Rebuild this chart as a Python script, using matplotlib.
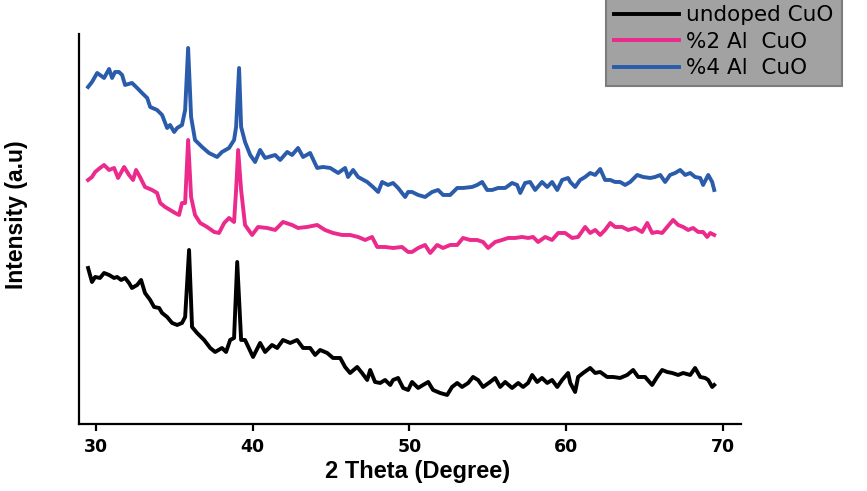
import matplotlib
matplotlib.use("Agg")
import matplotlib.pyplot as plt

# 2 theta (degree) and intensity (a.u., curves already stacked)
theta_undoped = [29.51, 29.76, 29.96, 30.27, 30.53, 30.85, 31.17, 31.36, 31.62, 31.87,
                 32.12, 32.31, 32.64, 32.89, 33.14, 33.47, 33.72, 34.04, 34.23, 34.55,
                 34.87, 35.19, 35.50, 35.70, 35.95, 36.14, 36.46, 36.91, 37.30, 37.61,
                 38.05, 38.31, 38.57, 38.82, 39.02, 39.27, 39.52, 40.03, 40.48, 40.80,
                 41.24, 41.57, 41.94, 42.40, 42.84, 43.22, 43.67, 43.99, 44.31, 44.76,
                 45.13, 45.59, 45.90, 46.22, 46.67, 46.98, 47.31, 47.50, 47.81, 48.14,
                 48.45, 48.78, 48.96, 49.28, 49.60, 49.92, 50.17, 50.56, 50.87, 51.20,
                 51.51, 51.96, 52.41, 52.72, 53.05, 53.36, 53.75, 54.06, 54.38, 54.70,
                 55.15, 55.47, 55.79, 56.11, 56.55, 56.94, 57.25, 57.57, 57.83, 58.15,
                 58.46, 58.79, 59.10, 59.43, 59.74, 60.12, 60.26, 60.57, 60.76, 61.08,
                 61.53, 61.85, 62.17, 62.61, 62.99, 63.44, 63.89, 64.27, 64.59, 65.03,
                 65.48, 65.80, 66.12, 66.44, 66.76, 67.14, 67.46, 67.91, 68.22, 68.55,
                 68.86, 69.06, 69.31, 69.44]
int_undoped = [156, 142, 147, 146, 151, 149, 146, 147, 144, 146,
               141, 136, 139, 144, 131, 124, 117, 116, 111, 107,
               101, 99, 101, 107, 174, 97, 91, 84, 76, 72,
               76, 72, 84, 86, 162, 84, 84, 67, 81, 72,
               79, 76, 84, 81, 84, 76, 76, 69, 74, 71,
               66, 66, 57, 51, 57, 51, 44, 54, 42, 41,
               44, 39, 44, 46, 36, 34, 42, 36, 39, 42,
               34, 31, 29, 37, 41, 37, 41, 47, 44, 37,
               42, 46, 37, 42, 36, 41, 37, 41, 49, 42,
               46, 41, 44, 37, 44, 51, 41, 32, 47, 51,
               56, 51, 52, 47, 47, 46, 49, 54, 47, 47,
               39, 47, 54, 52, 51, 49, 51, 49, 56, 47,
               46, 44, 37, 39]

theta_al2 = [29.51, 29.76, 29.96, 30.27, 30.53, 30.85, 31.17, 31.42, 31.81, 32.12,
             32.38, 32.57, 32.82, 33.14, 33.59, 33.91, 34.11, 34.42, 34.74, 35.06,
             35.31, 35.50, 35.70, 35.89, 36.08, 36.33, 36.66, 37.10, 37.55, 37.86,
             38.19, 38.50, 38.82, 38.95, 39.08, 39.27, 39.52, 39.97, 40.35, 40.93,
             41.44, 41.94, 42.52, 42.90, 43.48, 44.12, 44.62, 45.13, 45.71, 46.22,
             46.73, 47.18, 47.62, 47.95, 48.45, 48.96, 49.53, 49.92, 50.17, 50.56,
             51.00, 51.33, 51.77, 52.15, 52.60, 53.05, 53.42, 53.88, 54.32, 54.70,
             55.02, 55.47, 55.91, 56.30, 56.74, 57.19, 57.57, 57.89, 58.21, 58.66,
             59.10, 59.49, 59.93, 60.38, 60.76, 61.21, 61.53, 61.85, 62.17, 62.48,
             62.81, 63.12, 63.57, 63.95, 64.40, 64.84, 65.17, 65.48, 65.80, 66.12,
             66.44, 66.82, 67.14, 67.46, 67.78, 68.09, 68.42, 68.73, 68.99, 69.19,
             69.44]
int_al2 = [244, 247, 252, 256, 259, 254, 256, 246, 257, 249,
           244, 254, 247, 237, 234, 231, 221, 217, 214, 211,
           209, 221, 221, 284, 227, 209, 201, 197, 192, 191,
           201, 206, 202, 234, 274, 234, 199, 189, 197, 196,
           194, 202, 199, 196, 197, 199, 194, 191, 189, 189,
           187, 184, 187, 177, 177, 176, 177, 172, 172, 176,
           179, 171, 179, 176, 179, 179, 186, 184, 184, 182,
           176, 182, 184, 186, 186, 187, 186, 187, 182, 187,
           184, 191, 191, 186, 187, 197, 191, 194, 189, 194,
           201, 197, 197, 194, 196, 192, 201, 191, 192, 191,
           197, 204, 199, 197, 194, 196, 192, 192, 187, 191,
           189]

theta_al4 = [29.51, 29.76, 30.09, 30.27, 30.53, 30.85, 31.04, 31.23, 31.48, 31.68,
             31.87, 32.31, 32.64, 32.95, 33.28, 33.47, 33.91, 34.23, 34.55, 34.74,
             35.00, 35.19, 35.50, 35.70, 35.89, 36.08, 36.33, 36.78, 37.22, 37.74,
             38.05, 38.50, 38.82, 38.95, 39.14, 39.27, 39.52, 39.85, 40.16, 40.48,
             40.80, 41.44, 41.76, 42.21, 42.52, 42.90, 43.22, 43.67, 44.12, 44.49,
             44.95, 45.46, 45.90, 46.09, 46.41, 46.73, 47.31, 47.68, 48.01, 48.26,
             48.64, 48.96, 49.28, 49.73, 49.92, 50.17, 50.56, 51.00, 51.45, 51.83,
             52.15, 52.60, 53.05, 53.42, 54.00, 54.32, 54.64, 54.96, 55.28, 55.66,
             56.11, 56.55, 56.87, 57.07, 57.38, 57.70, 58.02, 58.46, 58.79, 59.10,
             59.43, 59.74, 60.12, 60.26, 60.57, 60.89, 61.21, 61.53, 61.85, 62.17,
             62.48, 62.81, 63.12, 63.44, 63.76, 64.08, 64.53, 64.90, 65.36, 65.67,
             66.00, 66.31, 66.62, 66.95, 67.27, 67.59, 67.91, 68.22, 68.55, 68.73,
             69.06, 69.31, 69.44]
int_al4 = [337, 342, 351, 349, 346, 355, 346, 352, 352, 349,
           339, 341, 336, 331, 326, 317, 314, 309, 296, 299,
           292, 296, 299, 314, 376, 307, 284, 277, 271, 267,
           272, 276, 284, 297, 356, 297, 282, 269, 262, 274,
           266, 269, 264, 272, 269, 276, 267, 271, 256, 257,
           256, 251, 256, 247, 254, 247, 242, 237, 232, 242,
           239, 241, 236, 227, 232, 232, 229, 227, 232, 234,
           229, 229, 236, 236, 237, 239, 242, 234, 234, 236,
           236, 241, 239, 231, 241, 242, 234, 242, 237, 242,
           234, 244, 246, 242, 237, 244, 247, 251, 249, 255,
           244, 244, 242, 242, 239, 242, 249, 247, 246, 247,
           249, 242, 249, 251, 254, 249, 251, 247, 246, 239,
           249, 242, 234]

labels = ["undoped CuO", "%2 Al  CuO", "%4 Al  CuO"]
colors = ["#000000", "#ec2a8c", "#2a5cab"]
x_ticks = [30, 40, 50, 60, 70]


def main():
    fig = plt.figure(figsize=(8.67, 4.91), dpi=100)
    ax = fig.add_axes([0.0911, 0.1365, 0.7636, 0.7943])

    series = [(theta_undoped, int_undoped), (theta_al2, int_al2), (theta_al4, int_al4)]
    for (tt, ii), lab, col in zip(series, labels, colors):
        ax.plot(tt, ii, color=col, lw=2.8, label=lab, solid_joinstyle="round")

    ax.set_xlim(28.93, 71.15)
    ax.set_ylim(0, 390)
    ax.set_xticks(x_ticks)
    ax.set_yticks([])
    for lbl in ax.get_xticklabels():
        lbl.set_fontweight("bold")
        lbl.set_fontfamily("DejaVu Sans")
    ax.tick_params(axis="x", direction="out", length=5, width=1.6, labelsize=12.5, pad=5)

    for side in ["top", "right"]:
        ax.spines[side].set_visible(False)
    for side in ["left", "bottom"]:
        ax.spines[side].set_linewidth(1.6)

    # label anchors: top of the x label, right edge of the rotated y label
    ax.set_xlabel("2 Theta (Degree)", fontsize=17, fontweight="bold",
                  family="Liberation Sans")
    ax.set_ylabel("Intensity (a.u)", fontsize=16.5, fontweight="bold",
                  family="Liberation Sans")
    ax.xaxis.set_label_coords(0.511, -0.093)
    ax.yaxis.set_label_coords(-0.077, 0.536)

    leg = fig.legend(loc="upper left", bbox_to_anchor=(0.699, 1.006),
                     prop={"family": "DejaVu Sans", "size": 15.5},
                     frameon=True, fancybox=False, handlelength=3.0, handletextpad=0.35,
                     labelspacing=0.3, borderpad=0.38, borderaxespad=0.0)
    frame = leg.get_frame()
    frame.set_facecolor("#a2a2a2")
    frame.set_edgecolor("#7c7c7c")
    frame.set_linewidth(1.5)
    frame.set_alpha(1)

    fig.savefig("out.png", dpi=100)


if __name__ == "__main__":
    main()
